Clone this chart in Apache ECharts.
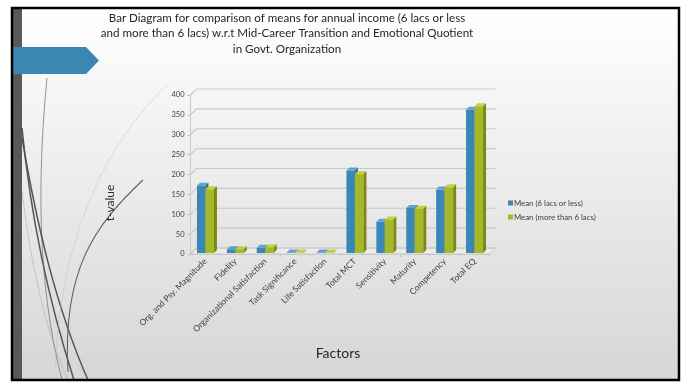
<!DOCTYPE html>
<html>
<head>
<meta charset="utf-8">
<script src="https://cdn.jsdelivr.net/npm/echarts@6/dist/echarts.min.js"></script>
<style>
  html, body { margin: 0; padding: 0; background: #ffffff; }
  #chart { width: 686px; height: 382px; }
</style>
</head>
<body>
<div id="chart"></div>
<script>
// Factors on the category axis
const categories = [
  'Org. and Psy. Magnitude', 'Fidelity', 'Organizational Satisfaction',
  'Task Significance', 'Life Satisfaction', 'Total MCT',
  'Sensitivity', 'Maturity', 'Competency', 'Total EQ'
];
// Mean values per income group
const meanLow = [172, 12, 16, 3, 3, 210, 81, 116, 162, 363];
const meanHigh = [163, 12, 17, 3, 3, 201, 87, 114, 168, 372];
// Value-axis ticks (used for the receding 3D grid lines)
const valueTicks = [0, 50, 100, 150, 200, 250, 300, 350, 400];

const seriesNames = ['Mean (6 lacs or less)', 'Mean (more than 6 lacs)'];
const FONT = 'Lato, "Open Sans", sans-serif';
const DEPTH = 6;      // wall/floor depth offset
const BAR_W = 8.5;    // front face width of one bar
const BAR_D = 3;      // bar depth offset

const palette = [
  { front: '#3a87b6', top: '#5fa3cc', side: '#2a6a92' },
  { front: '#a7b826', top: '#c3d240', side: '#7c8a14' }
];

function barRenderer(idx) {
  const c = palette[idx];
  return function (params, api) {
    const cat = api.value(0);
    const val = api.value(1);
    const base = api.coord([cat, 0]);
    const top = api.coord([cat, val]);
    const left = base[0] + (idx === 0 ? -BAR_W : 0);
    const right = left + BAR_W;
    const y0 = base[1] - 1;
    const y1 = Math.min(top[1], y0 - 0.5);
    return {
      type: 'group',
      children: [
        { type: 'rect', shape: { x: left, y: y1, width: BAR_W, height: y0 - y1 },
          style: { fill: c.front } },
        { type: 'polygon', shape: { points: [[left, y1], [right, y1], [right + BAR_D, y1 - BAR_D], [left + BAR_D, y1 - BAR_D]] },
          style: { fill: c.top } },
        { type: 'polygon', shape: { points: [[right, y1], [right + BAR_D, y1 - BAR_D], [right + BAR_D, y0 - BAR_D], [right, y0]] },
          style: { fill: c.side } }
      ]
    };
  };
}

function gridRenderer(params, api) {
  const cs = params.coordSys;
  const y = api.coord([0, api.value(0)])[1];
  const x0 = cs.x, x1 = cs.x + cs.width;
  const children = [
    { type: 'polyline', shape: { points: [[x0, y], [x0 + DEPTH, y - DEPTH], [x1 + DEPTH, y - DEPTH]] },
      style: { stroke: '#c9c9c9', lineWidth: 1.2, fill: null } }
  ];
  if (api.value(0) === 0) {
    children.unshift({
      type: 'polygon',
      shape: { points: [[x0, y], [x1, y], [x1 + DEPTH, y - DEPTH], [x0 + DEPTH, y - DEPTH]] },
      style: { fill: '#ececec', stroke: '#c9c9c9', lineWidth: 1 }
    });
  }
  return { type: 'group', children: children };
}

// Decorative curves along the left edge of the slide
function curve(p, stroke, lw, dash) {
  return {
    type: 'bezierCurve', z: 1,
    shape: { x1: p[0], y1: p[1], cpx1: p[2], cpy1: p[3], cpx2: p[4], cpy2: p[5], x2: p[6], y2: p[7] },
    style: { stroke: stroke, lineWidth: lw, fill: null, lineDash: dash || null }
  };
}

const chart = echarts.init(document.getElementById('chart'), null, { renderer: 'canvas' });

chart.setOption({
  animation: false,
  backgroundColor: '#ffffff',
  graphic: [
    { type: 'rect', z: -10, shape: { x: 12, y: 8, width: 667, height: 372 },
      style: { fill: new echarts.graphic.LinearGradient(0, 0, 0, 1, [
        { offset: 0, color: '#ffffff' }, { offset: 1, color: '#d6d6d6' }
      ]) } },
    { type: 'rect', z: 1, shape: { x: 13, y: 9, width: 9, height: 371 }, style: { fill: '#595959' } },
    curve([47, 78, 38, 170, 36, 280, 62, 380], '#6a6a6a', 0.7),
    curve([22, 128, 30, 210, 45, 290, 74, 380], '#555555', 1.5),
    curve([22, 138, 36, 220, 55, 305, 88, 380], '#555555', 1.5),
    curve([22, 190, 30, 260, 45, 330, 68, 380], '#a5a5a5', 1, [1, 1]),
    curve([143, 180, 95, 225, 62, 270, 68, 372], '#606060', 1.1),
    curve([167, 85, 110, 140, 60, 230, 55, 372], '#c0c0c0', 0.9, [1, 1]),
    { type: 'polygon', z: 2, shape: { points: [[13, 47], [86, 47], [99, 60.5], [86, 74], [13, 74]] },
      style: { fill: '#3c86b3' } },
    { type: 'rect', z: 3, shape: { x: 12, y: 8, width: 667, height: 372 },
      style: { fill: null, stroke: '#000000', lineWidth: 2.5 } },
    { type: 'text', z: 5, x: 287, y: 10,
      style: { text: 'Bar Diagram for comparison of means for annual income (6 lacs or less\nand more than 6 lacs) w.r.t Mid-Career Transition and Emotional Quotient\nin Govt. Organization',
        font: '11.6px ' + FONT, fill: '#262626', align: 'center', lineHeight: 15.5 } },
    { type: 'text', z: 5, x: 110, y: 203, rotation: Math.PI / 2,
      style: { text: 't-value', font: '12px ' + FONT, fill: '#262626', align: 'center', verticalAlign: 'middle' } },
    { type: 'text', z: 5, x: 338, y: 353,
      style: { text: 'Factors', font: '14px ' + FONT, fill: '#262626', align: 'center', verticalAlign: 'middle' } }
  ],
  legend: {
    orient: 'vertical', left: 503, top: 194, itemWidth: 5, itemHeight: 5, itemGap: 6,
    icon: 'rect', data: seriesNames,
    textStyle: { fontSize: 7.8, color: '#404040', fontFamily: FONT, padding: [0, 0, 0, -4] }
  },
  grid: { left: 190.5, top: 95, width: 299, height: 159, containLabel: false },
  xAxis: {
    type: 'category', data: categories,
    axisLine: { lineStyle: { color: '#c9c9c9' } },
    axisTick: { show: true, length: 3, lineStyle: { color: '#c0c0c0' } },
    axisLabel: { rotate: 45, fontSize: 8.5, color: '#404040', fontFamily: FONT, margin: 6, interval: 0 }
  },
  yAxis: {
    type: 'value', min: 0, max: 400, interval: 50,
    axisLine: { show: true, lineStyle: { color: '#c9c9c9' } },
    axisTick: { show: true, length: 3, lineStyle: { color: '#c0c0c0' } },
    splitLine: { show: false },
    axisLabel: { fontSize: 7.5, color: '#404040', fontFamily: FONT, margin: 6 }
  },
  series: [
    { type: 'custom', name: 'grid', silent: true, z: 1, renderItem: gridRenderer,
      data: valueTicks.map(function (v) { return [v]; }), encode: { y: 0 } },
    { type: 'custom', name: seriesNames[0], z: 3, renderItem: barRenderer(0),
      itemStyle: { color: palette[0].front },
      data: meanLow.map(function (v, i) { return [i, v]; }), encode: { x: 0, y: 1 } },
    { type: 'custom', name: seriesNames[1], z: 4, renderItem: barRenderer(1),
      itemStyle: { color: palette[1].front },
      data: meanHigh.map(function (v, i) { return [i, v]; }), encode: { x: 0, y: 1 } }
  ]
});
</script>
</body>
</html>
